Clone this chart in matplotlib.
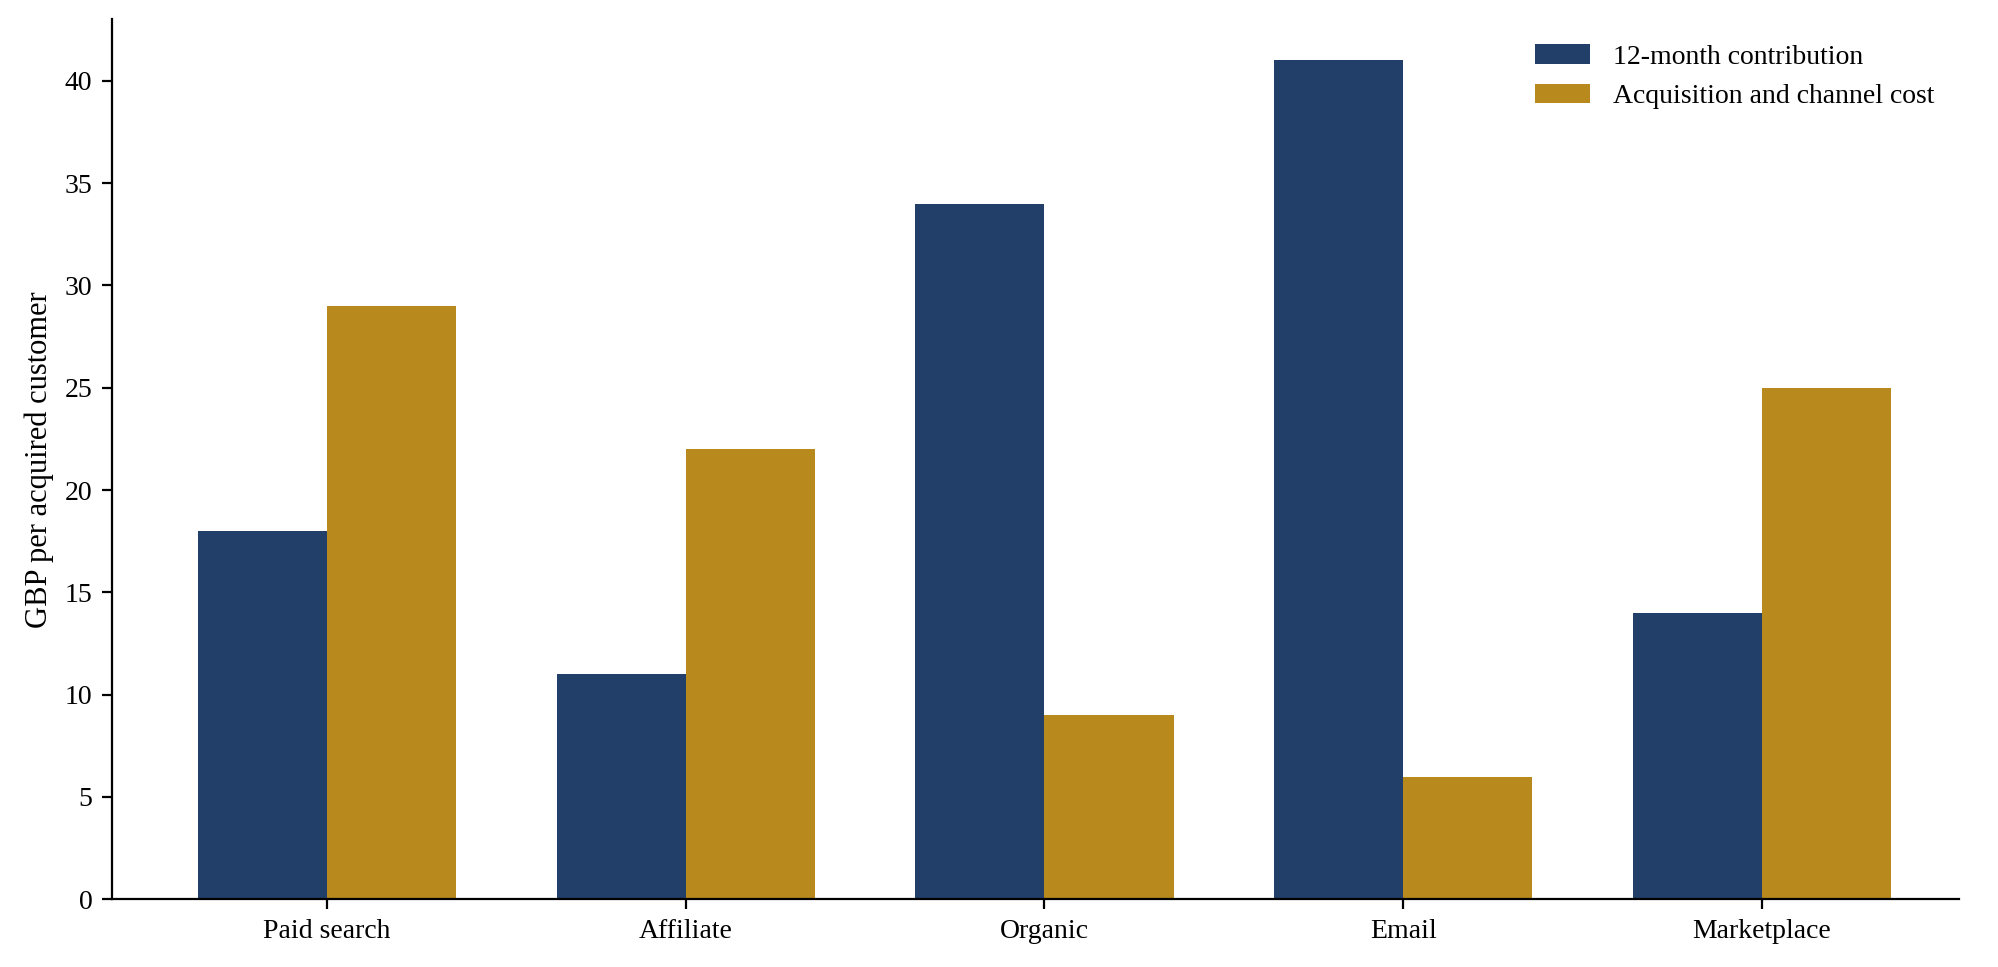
import matplotlib
matplotlib.use("Agg")
import matplotlib.pyplot as plt
import numpy as np

plt.rcParams['font.family'] = ['Liberation Serif', 'DejaVu Serif']

categories = ["Paid search", "Affiliate", "Organic", "Email", "Marketplace"]
contribution = [18, 11, 34, 41, 14]
cost = [29, 22, 9, 6, 25]

fig = plt.figure(figsize=(9.995, 4.835), dpi=200)
ax = fig.add_axes([0.056, 0.07, 0.924, 0.91])
x = np.arange(len(categories))
w = 0.36
ax.bar(x - w/2, contribution, w, color="#213f69", label="12-month contribution")
ax.bar(x + w/2, cost, w, color="#b8891d", label="Acquisition and channel cost")
ax.set_xticks(x)
ax.set_xticklabels(categories, fontsize=10)
ax.set_ylim(0, 43)
ax.set_xlim(-0.6, 4.55)
ax.set_yticks(range(0, 45, 5))
ax.tick_params(labelsize=10)
ax.set_ylabel("GBP per acquired customer", fontsize=11)
ax.spines['top'].set_visible(False)
ax.spines['right'].set_visible(False)
ax.legend(frameon=False, fontsize=10, loc="upper right")
fig.savefig("out.png", dpi=200)
